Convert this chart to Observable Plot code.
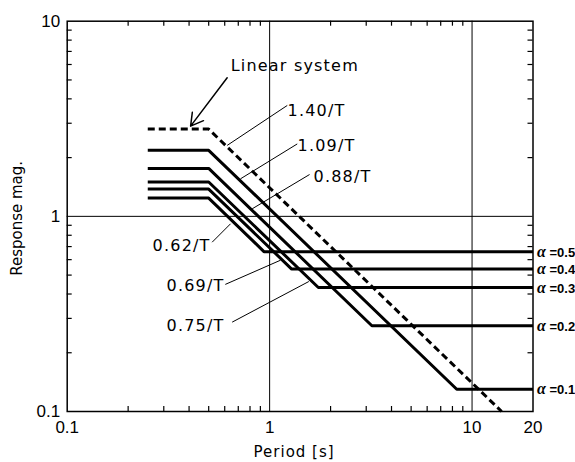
<!DOCTYPE html>
<html><head><meta charset="utf-8">
<script src="https://cdn.jsdelivr.net/npm/d3@7"></script>
<script src="https://cdn.jsdelivr.net/npm/@observablehq/plot@0.6"></script>
<style>body{margin:0;background:#fff}</style>
</head><body><div id="chart"></div>
<script>
// Axis domains and tick labels
const xDomain = [0.1, 20];
const yDomain = [0.1, 10];
const xTickLabels = [0.1, 1, 10, 20];
const yTickLabels = [0.1, 1, 10];
const xMinorTicks = [0.2, 0.3, 0.4, 0.5, 0.6, 0.7, 0.8, 0.9, 2, 3, 4, 5, 6, 7, 8, 9];
const yMinorTicks = [0.2, 0.3, 0.4, 0.5, 0.6, 0.7, 0.8, 0.9, 2, 3, 4, 5, 6, 7, 8, 9];
const gridX = [1, 10];
const gridY = [1];

// Linear system (dashed)
const linearT = [0.25, 0.5, 14];
const linearR = [2.8, 2.8, 0.1];
// Nonlinear systems (solid): vertices period / response
const a01T = [0.25, 0.5, 8.4, 20];   const a01R = [2.18, 2.18, 0.13, 0.13];
const a02T = [0.25, 0.5, 3.2, 20];   const a02R = [1.76, 1.76, 0.275, 0.275];
const a03T = [0.25, 0.5, 1.74, 20];  const a03R = [1.50, 1.50, 0.432, 0.432];
const a04T = [0.25, 0.5, 1.285, 20]; const a04R = [1.38, 1.38, 0.537, 0.537];
const a05T = [0.25, 0.5, 0.94, 20];  const a05R = [1.24, 1.24, 0.658, 0.658];

// Right-side alpha labels
const alphaLabels = ["α =0.5", "α =0.4", "α =0.3", "α =0.2", "α =0.1"];
const alphaLevels = [0.658, 0.537, 0.432, 0.275, 0.13];

// Coefficient labels and their leader lines
const coefLabels = ["1.40/T", "1.09/T", "0.88/T", "0.62/T", "0.69/T", "0.75/T"];
const coefTextT = [1.226, 1.374, 1.648, 0.511, 0.599, 0.599];
const coefTextR = [3.49, 2.31, 1.60, 0.709, 0.442, 0.276];
const coefAnchor = ["start", "start", "start", "end", "end", "end"];
const leaderFromT = [1.222, 1.369, 1.575, 0.520, 0.604, 0.653];
const leaderFromR = [3.70, 2.35, 1.638, 0.737, 0.448, 0.287];
const leaderToT = [0.617, 0.718, 0.82, 0.641, 1.132, 1.562];
const leaderToR = [2.31, 1.557, 1.093, 0.916, 0.596, 0.4636];

// "Linear system" annotation
const linearLabel = "Linear system";
const linearLabelT = 0.642, linearLabelR = 5.93;
const arrowFrom = [0.617, 5.13];
const arrowTo = [0.407, 2.9];

const toRows = (T, R) => T.map((t, i) => ({T: t, R: R[i]}));
const solidSeries = [[a01T, a01R], [a02T, a02R], [a03T, a03R], [a04T, a04R], [a05T, a05R]];

const coefRows = coefLabels.map((l, i) => ({label: l, T: coefTextT[i], R: coefTextR[i], anchor: coefAnchor[i],
  x1: leaderFromT[i], y1: leaderFromR[i], x2: leaderToT[i], y2: leaderToR[i]}));
const alphaRows = alphaLabels.map((l, i) => ({label: l, R: alphaLevels[i]}));

const annFont = "DejaVu Sans";
const tickFont = "Liberation Sans";

const W = 575, H = 462, ML = 66.7, MR = 42.5, MT = 20.7, MB = 51;
const innerW = W - ML - MR, innerH = H - MT - MB;
const tickLen = 5;

const chart = Plot.plot({
  width: W,
  height: H,
  marginLeft: ML,
  marginRight: MR,
  marginTop: MT,
  marginBottom: MB,
  style: {background: "#fff", fontFamily: tickFont, color: "#000", overflow: "visible"},
  x: {type: "log", domain: xDomain},
  y: {type: "log", domain: yDomain},
  marks: [
    Plot.ruleX(gridX, {stroke: "#000", strokeWidth: 1}),
    Plot.ruleY(gridY, {stroke: "#000", strokeWidth: 1}),
    // inward minor ticks on all four sides
    Plot.ruleX(xMinorTicks, {insetTop: innerH - tickLen, stroke: "#000", strokeWidth: 1.2}),
    Plot.ruleX(xMinorTicks, {insetBottom: innerH - tickLen, stroke: "#000", strokeWidth: 1.2}),
    Plot.ruleY(yMinorTicks, {insetRight: innerW - tickLen, stroke: "#000", strokeWidth: 1.2}),
    Plot.ruleY(yMinorTicks, {insetLeft: innerW - tickLen, stroke: "#000", strokeWidth: 1.2}),
    Plot.axisX(xTickLabels, {anchor: "bottom", tickSize: 0, tickPadding: 9, tickFormat: d => String(d), label: null, fontSize: 17}),
    Plot.axisY(yTickLabels, {anchor: "left", tickSize: 0, tickPadding: 7, tickFormat: d => String(d), label: null, fontSize: 17}),
    Plot.frame({stroke: "#000", strokeWidth: 1.5}),
    ...solidSeries.map(([T, R]) => Plot.line(toRows(T, R), {x: "T", y: "R", stroke: "#000", strokeWidth: 3, strokeLinejoin: "miter", strokeLinecap: "butt"})),
    Plot.line(toRows(linearT, linearR), {x: "T", y: "R", stroke: "#000", strokeWidth: 3, strokeDasharray: "7,4", strokeLinejoin: "miter", strokeLinecap: "butt"}),
    Plot.link(coefRows, {x1: "x1", y1: "y1", x2: "x2", y2: "y2", stroke: "#000", strokeWidth: 1}),
    Plot.text(coefRows.filter(d => d.anchor === "start"), {x: "T", y: "R", text: "label", textAnchor: "start", lineAnchor: "middle", fontSize: 16, fontFamily: annFont, fill: "#000"}),
    Plot.text(coefRows.filter(d => d.anchor === "end"), {x: "T", y: "R", text: "label", textAnchor: "end", lineAnchor: "middle", fontSize: 16, fontFamily: annFont, fill: "#000"}),
    Plot.arrow([{x1: arrowFrom[0], y1: arrowFrom[1], x2: arrowTo[0], y2: arrowTo[1]}], {x1: "x1", y1: "y1", x2: "x2", y2: "y2", stroke: "#000", strokeWidth: 1.5, headLength: 14}),
    Plot.text([{label: linearLabel, T: linearLabelT, R: linearLabelR}], {x: "T", y: "R", text: "label", textAnchor: "start", lineAnchor: "middle", fontSize: 16, fontFamily: annFont, fill: "#000"}),
    Plot.text(alphaRows, {x: () => xDomain[1], y: "R", text: "label", textAnchor: "start", lineAnchor: "middle", dx: 4, dy: 1, fontSize: 13, fontWeight: "bold", fontFamily: tickFont, fill: "#000"}),
    Plot.text([{label: "Period [s]"}], {text: "label", frameAnchor: "bottom", textAnchor: "middle", dx: -6, dy: 41, lineAnchor: "middle", fontSize: 15, fontFamily: annFont, fill: "#000"}),
    Plot.text([{label: "Response mag."}], {text: "label", frameAnchor: "left", textAnchor: "middle", dx: -50, dy: 2, rotate: -90, lineAnchor: "middle", fontSize: 15, fontFamily: annFont, fill: "#000"})
  ]
});
document.getElementById("chart").appendChild(chart);

const spaced = new Set([...coefLabels, linearLabel]);
d3.select(chart).selectAll("text").each(function() {
  const el = d3.select(this);
  const s = el.text();
  if (spaced.has(s)) el.style("letter-spacing", "1.2px");
  if (s === "Period [s]") el.style("letter-spacing", "1px");
  if (s.startsWith("α")) {
    el.text(null);
    el.append("tspan").attr("font-family", "Liberation Serif").attr("font-style", "italic").attr("font-size", 16).attr("font-weight", "bold").text("α");
    el.append("tspan").text(s.slice(1));
  }
});
</script></body></html>
